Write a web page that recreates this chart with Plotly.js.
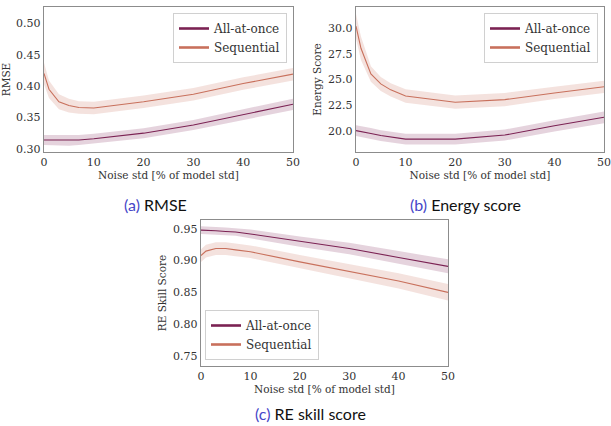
<!DOCTYPE html>
<html><head><meta charset="utf-8">
<script src="https://cdn.plot.ly/plotly-3.0.1.min.js"></script>
<style>html,body{margin:0;padding:0;background:#fff}#c{width:611px;height:426px}</style>
</head><body><div id="c"></div>
<script>
const noise = [0, 1, 3, 5, 7, 10, 20, 30, 40, 50];
const seriesNames = ["All-at-once", "Sequential"];
const xTicks = [0, 10, 20, 30, 40, 50];

// (a) RMSE
const rmseAAO   = [0.314, 0.314, 0.313, 0.313, 0.314, 0.316, 0.325, 0.338, 0.354, 0.371];
const rmseAAOlo = [0.306, 0.306, 0.305, 0.305, 0.306, 0.308, 0.317, 0.330, 0.346, 0.362];
const rmseAAOhi = [0.322, 0.322, 0.321, 0.321, 0.322, 0.324, 0.333, 0.346, 0.363, 0.380];
const rmseSeq   = [0.420, 0.395, 0.375, 0.369, 0.366, 0.365, 0.375, 0.387, 0.404, 0.419];
const rmseSeqlo = [0.403, 0.381, 0.363, 0.358, 0.356, 0.355, 0.365, 0.377, 0.394, 0.409];
const rmseSeqhi = [0.437, 0.409, 0.387, 0.380, 0.376, 0.375, 0.385, 0.397, 0.414, 0.429];
const rmseTicks = [0.30, 0.35, 0.40, 0.45, 0.50];

// (b) Energy score
const esAAO   = [20.03, 19.95, 19.75, 19.55, 19.4, 19.2, 19.2, 19.6, 20.5, 21.33];
const esAAOlo = [19.5, 19.42, 19.22, 19.02, 18.87, 18.67, 18.67, 19.07, 19.95, 20.75];
const esAAOhi = [20.56, 20.48, 20.28, 20.08, 19.93, 19.73, 19.73, 20.13, 21.05, 21.9];
const esSeq   = [30.2, 28.05, 25.55, 24.58, 24.0, 23.4, 22.8, 23.05, 23.7, 24.3];
const esSeqlo = [29.0, 26.9, 24.8, 23.9, 23.35, 22.75, 22.15, 22.4, 23.1, 23.7];
const esSeqhi = [31.4, 29.2, 26.3, 25.25, 24.65, 24.05, 23.45, 23.7, 24.3, 24.9];
const esTicks = [20.0, 22.5, 25.0, 27.5, 30.0];

// (c) RE skill score
const reAAO   = [0.948, 0.948, 0.947, 0.946, 0.945, 0.942, 0.930, 0.919, 0.905, 0.891];
const reAAOlo = [0.942, 0.942, 0.941, 0.940, 0.939, 0.935, 0.922, 0.910, 0.895, 0.880];
const reAAOhi = [0.954, 0.954, 0.953, 0.952, 0.951, 0.949, 0.938, 0.928, 0.915, 0.902];
const reSeq   = [0.908, 0.915, 0.919, 0.919, 0.917, 0.914, 0.898, 0.883, 0.868, 0.850];
const reSeqlo = [0.898, 0.905, 0.909, 0.909, 0.907, 0.904, 0.887, 0.872, 0.856, 0.837];
const reSeqhi = [0.918, 0.925, 0.929, 0.929, 0.927, 0.924, 0.909, 0.894, 0.880, 0.863];
const reTicks = [0.75, 0.80, 0.85, 0.90, 0.95];

const captions = ["RMSE", "Energy score", "RE skill score"];
const letters = ["(a)", "(b)", "(c)"];

const colAAO = "#7b2253", colSeq = "#c8705c";
const fillAAO = "rgba(123,34,83,0.2)", fillSeq = "rgba(200,112,92,0.2)";
const serif = "DejaVu Serif, serif";

const traces = [];
function addPanel(ax, legendId, lo1, hi1, m1, lo2, hi2, m2) {
  const xa = "x" + ax, ya = "y" + ax;
  const band = (lo, hi, fc) => ({
    x: noise.concat(noise.slice().reverse()), y: hi.concat(lo.slice().reverse()),
    xaxis: xa, yaxis: ya, type: "scatter", mode: "lines", fill: "toself",
    fillcolor: fc, line: {width: 0}, hoverinfo: "skip", showlegend: false
  });
  traces.push(band(lo1, hi1, fillAAO));
  traces.push(band(lo2, hi2, fillSeq));
  traces.push({x: noise, y: m1, xaxis: xa, yaxis: ya, mode: "lines", line: {color: colAAO, width: 1.1}, showlegend: false});
  traces.push({x: noise, y: m2, xaxis: xa, yaxis: ya, mode: "lines", line: {color: colSeq, width: 1.1}, showlegend: false});
  traces.push({x: [null], y: [null], xaxis: xa, yaxis: ya, mode: "lines", name: seriesNames[0], legend: legendId, line: {color: colAAO, width: 2.6}});
  traces.push({x: [null], y: [null], xaxis: xa, yaxis: ya, mode: "lines", name: seriesNames[1], legend: legendId, line: {color: colSeq, width: 2.6}});
}
addPanel("", "legend", rmseAAOlo, rmseAAOhi, rmseAAO, rmseSeqlo, rmseSeqhi, rmseSeq);
addPanel("2", "legend2", esAAOlo, esAAOhi, esAAO, esSeqlo, esSeqhi, esSeq);
addPanel("3", "legend3", reAAOlo, reAAOhi, reAAO, reSeqlo, reSeqhi, reSeq);

const W = 611, H = 426;
const px = v => v / W, py = v => 1 - v / H;

function xaxis(d, anchor) {
  return {domain: d, anchor: anchor, range: [0, 50], tickvals: xTicks, ticks: "", showgrid: false, zeroline: false,
    showline: true, mirror: true, linecolor: "#8c8c8c", linewidth: 1.2,
    tickfont: {family: serif, size: 11, color: "#333"},
    title: {text: "Noise std [% of model std]", font: {family: serif, size: 10.5, color: "#333"}, standoff: 2}};
}
function yaxis(d, anchor, r, tv, fmt, t) {
  return {domain: d, anchor: anchor, range: r, tickvals: tv, tickformat: fmt, ticks: "", showgrid: false, zeroline: false,
    showline: true, mirror: true, linecolor: "#8c8c8c", linewidth: 1.2,
    tickfont: {family: serif, size: 11, color: "#333"},
    title: {text: t, font: {family: serif, size: 10.5, color: "#333"}, standoff: 4}};
}
const legendStyle = (x, y, xa, ya) => ({
  x: x, y: y, xanchor: xa, yanchor: ya, bgcolor: "rgba(255,255,255,0.85)", bordercolor: "#d0d0d0", borderwidth: 1,
  font: {family: serif, size: 12, color: "#333"}, tracegroupgap: 0, itemwidth: 30
});

const capFont = {family: "Lato", size: 16, color: "#111"};
const cap = (i, x, y) => ({text: '<span style="color:#4646c8">' + letters[i] + '</span> ' + captions[i],
  x: px(x), y: py(y), xref: "paper", yref: "paper", showarrow: false, font: capFont, xanchor: "center", yanchor: "middle"});

const layout = {
  width: W, height: H, margin: {l: 0, r: 0, t: 0, b: 0}, paper_bgcolor: "#fff", plot_bgcolor: "#fff",
  xaxis: xaxis([px(44), px(293)], "y"),
  yaxis: yaxis([py(152), py(7)], "x", [0.295, 0.526], rmseTicks, ".2f", "RMSE"),
  xaxis2: xaxis([px(356), px(604)], "y2"),
  yaxis2: yaxis([py(152), py(7)], "x2", [17.95, 32.07], esTicks, ".1f", "Energy Score"),
  xaxis3: xaxis([px(201), px(448)], "y3"),
  yaxis3: yaxis([py(366), py(220)], "x3", [0.734, 0.964], reTicks, ".2f", "RE Skill Score"),
  legend: legendStyle(px(287), py(13), "right", "top"),
  legend2: legendStyle(px(598), py(13), "right", "top"),
  legend3: legendStyle(px(205), py(360), "left", "bottom"),
  annotations: [cap(0, 155, 205), cap(1, 465, 205), cap(2, 310, 413)]
};
Plotly.newPlot("c", traces, layout, {displayModeBar: false, staticPlot: true});
</script></body></html>
